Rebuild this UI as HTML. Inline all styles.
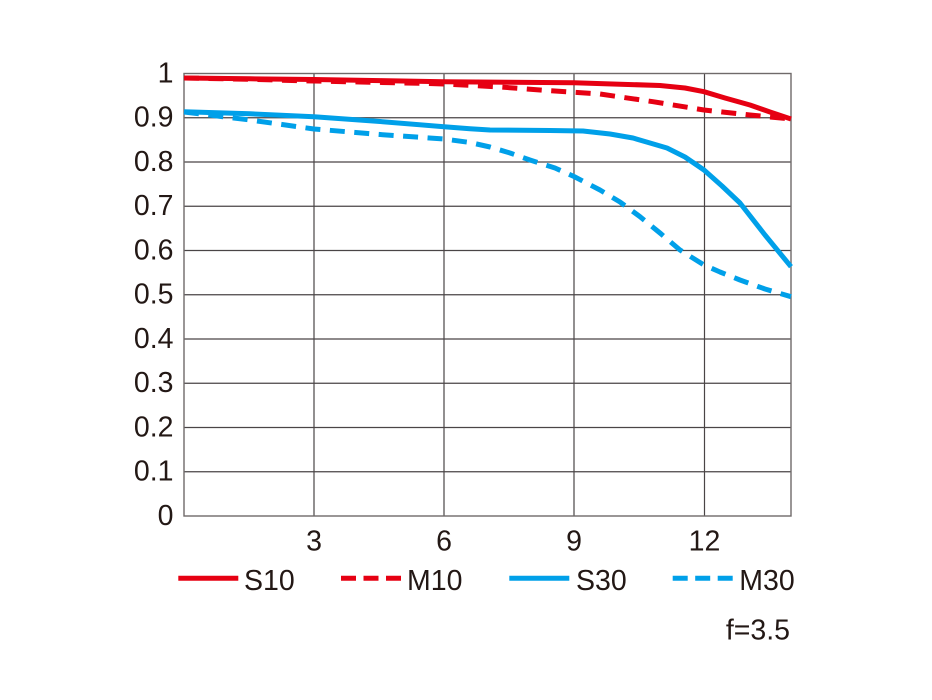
<!DOCTYPE html>
<html>
<head>
<meta charset="utf-8">
<style>
html,body{margin:0;padding:0;background:#fff;}
svg{display:block;}
text{font-family:"Liberation Sans",sans-serif;fill:#231815;}
</style>
</head>
<body>
<svg width="932" height="700" viewBox="0 0 932 700" xmlns="http://www.w3.org/2000/svg">
  <rect x="0" y="0" width="932" height="700" fill="#fff"/>
  <!-- grid -->
  <g stroke="#4a4546" stroke-width="1.2" fill="none">
    <line x1="184" y1="117.75" x2="791" y2="117.75"/>
    <line x1="184" y1="162" x2="791" y2="162"/>
    <line x1="184" y1="206.25" x2="791" y2="206.25"/>
    <line x1="184" y1="250.5" x2="791" y2="250.5"/>
    <line x1="184" y1="294.75" x2="791" y2="294.75"/>
    <line x1="184" y1="339" x2="791" y2="339"/>
    <line x1="184" y1="383.25" x2="791" y2="383.25"/>
    <line x1="184" y1="427.5" x2="791" y2="427.5"/>
    <line x1="184" y1="471.75" x2="791" y2="471.75"/>
    <line x1="314" y1="73.5" x2="314" y2="516"/>
    <line x1="444" y1="73.5" x2="444" y2="516"/>
    <line x1="574" y1="73.5" x2="574" y2="516"/>
    <line x1="704.5" y1="73.5" x2="704.5" y2="516"/>
  </g>
  <rect x="184" y="73.5" width="607" height="442.5" fill="none" stroke="#6f6a6a" stroke-width="1.4"/>

  <!-- y tick labels -->
  <g font-size="28.5" text-anchor="end">
    <text x="173.5" y="82.3">1</text>
    <text x="173.5" y="126.5">0.9</text>
    <text x="173.5" y="170.8">0.8</text>
    <text x="173.5" y="215">0.7</text>
    <text x="173.5" y="259.3">0.6</text>
    <text x="173.5" y="303.5">0.5</text>
    <text x="173.5" y="347.8">0.4</text>
    <text x="173.5" y="392">0.3</text>
    <text x="173.5" y="436.3">0.2</text>
    <text x="173.5" y="480.5">0.1</text>
    <text x="173.5" y="524.8">0</text>
  </g>
  <!-- x tick labels -->
  <g font-size="28.5" text-anchor="middle">
    <text x="314" y="550.5">3</text>
    <text x="444" y="550.5">6</text>
    <text x="574" y="550.5">9</text>
    <text x="704.5" y="550.5">12</text>
  </g>

  <!-- series -->
  <g fill="none" stroke-width="5" stroke-linejoin="round">
    <path stroke="#e60012" stroke-dasharray="15 9.5"
      d="M184,78 L250,79.3 L300,80.7 L360,82 L420,83.3 L444,84 L500,87 L550,90.7 L574,92.3 L600,94 L653,101.7 L704,110 L750,115 L791,119"/>
    <path stroke="#e60012"
      d="M184,78 L250,78.8 L314,79.5 L380,80.6 L444,81.7 L510,82.3 L574,82.7 L620,84.2 L660,85.5 L685,88 L704,91.7 L725,98 L750,105 L770,112 L791,119"/>
    <path stroke="#00a0e9" stroke-dasharray="15 9.5"
      d="M184,112 L250,120 L314,129 L380,134.5 L444,139 L470,142.5 L490,147 L510,153 L530,160 L555,168 L574,176.5 L600,190 L620,202 L640,216.7 L660,233 L680,250 L704,265 L720,272 L740,280 L765,289 L791,296.7"/>
    <path stroke="#00a0e9"
      d="M184,111.7 L250,113.8 L314,116.7 L380,121.5 L444,126.7 L470,128.8 L490,130 L550,130.5 L583,131 L610,134 L633,138 L650,143 L667,148 L685,157 L704,170 L722,186 L740,203 L765,235 L791,266.7"/>
  </g>

  <!-- legend -->
  <g stroke-width="5" fill="none">
    <line x1="178.3" y1="578.3" x2="238.3" y2="578.3" stroke="#e60012"/>
    <line x1="341" y1="578.3" x2="401" y2="578.3" stroke="#e60012" stroke-dasharray="15 7.5"/>
    <line x1="509.3" y1="578.3" x2="569.3" y2="578.3" stroke="#00a0e9"/>
    <line x1="672.7" y1="578.3" x2="732.7" y2="578.3" stroke="#00a0e9" stroke-dasharray="15 7.5"/>
  </g>
  <g font-size="28.5">
    <text x="244" y="590">S10</text>
    <text x="407" y="590">M10</text>
    <text x="576" y="590">S30</text>
    <text x="739.3" y="590">M30</text>
  </g>
  <text x="790" y="639.3" font-size="28.5" text-anchor="end">f=3.5</text>
</svg>
</body>
</html>
